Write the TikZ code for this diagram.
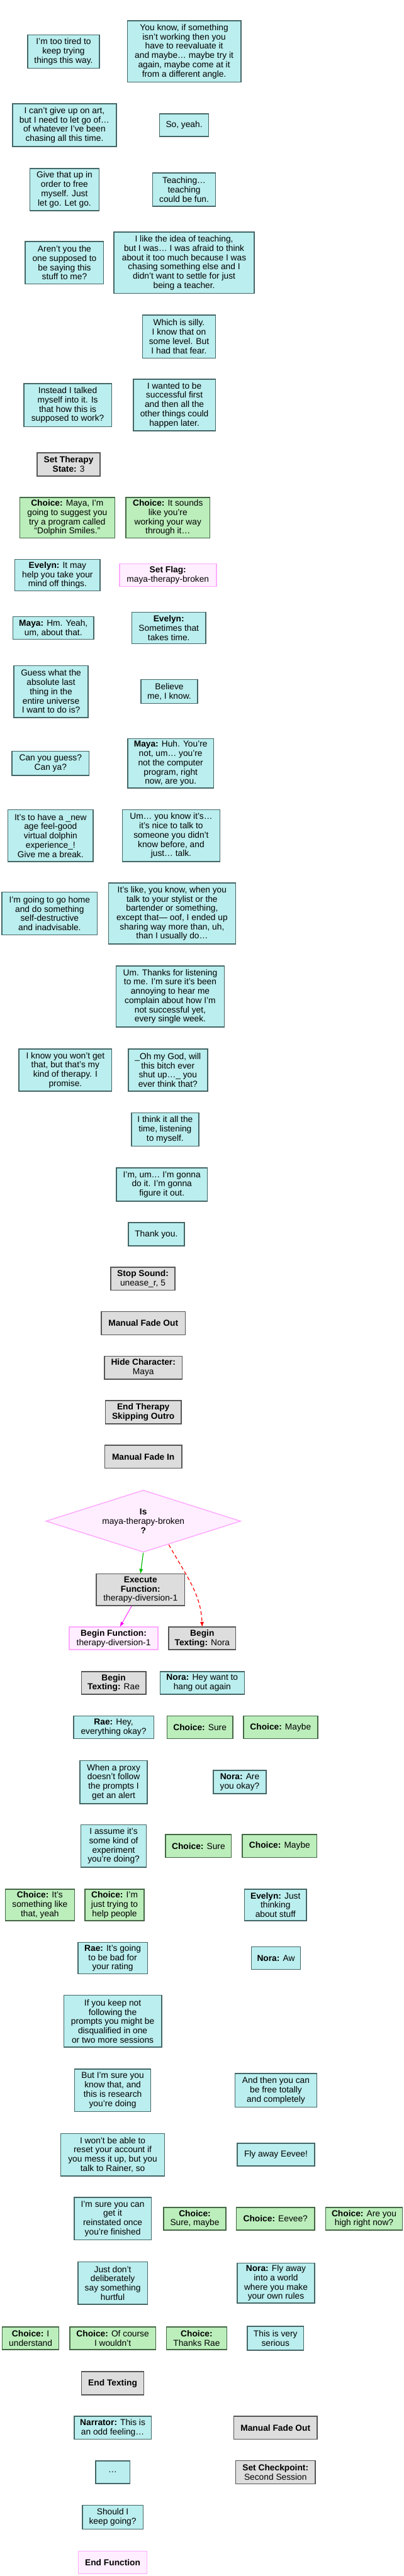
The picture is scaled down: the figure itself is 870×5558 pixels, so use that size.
\documentclass[tikz,border=0pt]{standalone}
\usepackage{fontspec}
\setmainfont{Liberation Sans}
\usetikzlibrary{shapes.geometric,arrows.meta}
\definecolor{cyf}{HTML}{BBEEEE}
\definecolor{cyd}{HTML}{446666}
\definecolor{grf}{HTML}{BBEEBB}
\definecolor{grd}{HTML}{446644}
\definecolor{gyf}{HTML}{DDDDDD}
\definecolor{gyd}{HTML}{555555}
\definecolor{pkf}{HTML}{FFEEFF}
\definecolor{pkd}{HTML}{FFAAFF}
\definecolor{yesc}{HTML}{00BB00}
\definecolor{noc}{HTML}{FF0000}
\definecolor{fnc}{HTML}{FF00FF}
\begin{document}
\begin{tikzpicture}[x=0.75pt,y=-0.75pt,
 base/.style={rectangle,draw,line width=1.5pt,align=center,inner sep=0pt,font=\fontsize{14}{15}\selectfont},
 sz/.style 2 args={minimum width=#1*0.75pt,minimum height=#2*0.75pt},
 say/.style={base,fill=cyf,draw=cyd},
 pick/.style={base,fill=grf,draw=grd},
 act/.style={base,fill=gyf,draw=gyd},
 fn/.style={base,fill=pkf,draw=pkd},
 link/.style={line width=1.2pt,-{Triangle[length=7.5pt,width=5.5pt]}}
]
\fill[white] (0,0) rectangle (870,5558);
\useasboundingbox (0,0) rectangle (870,5558);

\node[say,sz={155}{72}] (n1) at (137,111) {I'm too tired to\\keep trying\\things this way.};
\node[say,sz={245}{132}] (n2) at (397,111) {You know, if something\\isn't working then you\\have to reevaluate it\\and maybe… maybe try it\\again, maybe come at it\\from a different angle.};
\node[say,sz={224}{92}] (n3) at (139,270) {I can't give up on art,\\but I need to let go of…\\of whatever I've been\\chasing all this time.};
\node[say,sz={106}{49}] (n4) at (397,270) {So, yeah.};
\node[say,sz={149}{91}] (n5) at (139,409) {Give that up in\\order to free\\myself. Just\\let go. Let go.};
\node[say,sz={136}{72}] (n6) at (397,409) {Teaching…\\teaching\\could be fun.};
\node[say,sz={169}{92}] (n7) at (139,567) {Aren't you the\\one supposed to\\be saying this\\stuff to me?};
\node[say,sz={303}{132}] (n8) at (397,567) {I like the idea of teaching,\\but I was… I was afraid to think\\about it too much because I was\\chasing something else and I\\didn't want to settle for just\\being a teacher.};
\node[say,sz={157}{93}] (n9) at (386,726) {Which is silly.\\I know that on\\some level. But\\I had that fear.};
\node[say,sz={189}{93}] (n10) at (146,874) {Instead I talked\\myself into it. Is\\that how this is\\supposed to work?};
\node[say,sz={177}{111}] (n11) at (376,874) {I wanted to be\\successful first\\and then all the\\other things could\\happen later.};
\node[act,sz={136}{50}] (n12) at (148,1002) {\textbf{Set Therapy}\\\textbf{State:} 3};
\node[pick,sz={205}{87}] (n13) at (145,1117) {\textbf{Choice:} Maya, I'm\\going to suggest you\\try a program called\\“Dolphin Smiles.”};
\node[pick,sz={181}{87}] (n14) at (362,1117) {\textbf{Choice:} It sounds\\like you're\\working your way\\through it…};
\node[say,sz={184}{68}] (n15) at (124,1241) {\textbf{Evelyn:} It may\\help you take your\\mind off things.};
\node[fn,sz={209}{49}] (n16) at (362,1241) {\textbf{Set Flag:}\\maya-therapy-broken};
\node[say,sz={175}{49}] (n17) at (115,1355) {\textbf{Maya:} Hm. Yeah,\\um, about that.};
\node[say,sz={159}{68}] (n18) at (364,1355) {\textbf{Evelyn:}\\Sometimes that\\takes time.};
\node[say,sz={160}{112}] (n19) at (110,1492) {Guess what the\\absolute last\\thing in the\\entire universe\\I want to do is?};
\node[say,sz={122}{52}] (n20) at (365,1492) {Believe\\me, I know.};
\node[say,sz={166}{52}] (n21) at (109,1647) {Can you guess?\\Can ya?};
\node[say,sz={185}{106}] (n22) at (368,1647) {\textbf{Maya:} Huh. You're\\not, um… you're\\not the computer\\program, right\\now, are you.};
\node[say,sz={184}{112}] (n23) at (109,1803) {It's to have a \_new\\age feel-good\\virtual dolphin\\experience\_!\\Give me a break.};
\node[say,sz={210}{112}] (n24) at (369,1803) {Um… you know it's…\\it's nice to talk to\\someone you didn't\\know before, and\\just… talk.};
\node[say,sz={206}{92}] (n25) at (107,1971) {I'm going to go home\\and do something\\self-destructive\\and inadvisable.};
\node[say,sz={274}{132}] (n26) at (371,1971) {It's like, you know, when you\\talk to your stylist or the\\bartender or something,\\except that— oof, I ended up\\sharing way more than, uh,\\than I usually do…};
\node[say,sz={234}{132}] (n27) at (367,2150) {Um. Thanks for listening\\to me. I'm sure it's been\\annoying to hear me\\complain about how I'm\\not successful yet,\\every single week.};
\node[say,sz={200}{91}] (n28) at (141,2309) {I know you won't get\\that, but that's my\\kind of therapy. I\\promise.};
\node[say,sz={171}{91}] (n29) at (362,2309) {\_Oh my God, will\\this bitch ever\\shut up…\_ you\\ever think that?};
\node[say,sz={145}{72}] (n30) at (356,2437) {I think it all the\\time, listening\\to myself.};
\node[say,sz={196}{72}] (n31) at (349,2556) {I'm, um… I'm gonna\\do it. I'm gonna\\figure it out.};
\node[say,sz={121}{50}] (n32) at (337,2663) {Thank you.};
\node[act,sz={139}{50}] (n33) at (308,2759) {\textbf{Stop Sound:}\\unease\_r, 5};
\node[act,sz={181}{50}] (n34) at (309,2855) {\textbf{Manual Fade Out}};
\node[act,sz={168}{50}] (n35) at (309,2951) {\textbf{Hide Character:}\\Maya};
\node[act,sz={164}{50}] (n36) at (309,3047) {\textbf{End Therapy}\\\textbf{Skipping Outro}};
\node[act,sz={166}{50}] (n37) at (309,3143) {\textbf{Manual Fade In}};
\node[diamond,draw=pkd,fill=pkf,line width=1.5pt,align=center,inner sep=0pt,aspect=3.13,
      minimum width=420*0.75pt,minimum height=134*0.75pt,font=\fontsize{14}{15}\selectfont]
      (dia) at (309,3282) {\textbf{Is}\\maya-therapy-broken\\\textbf{?}};
\node[act,sz={191}{68}] (exec) at (303,3430) {\textbf{Execute}\\\textbf{Function:}\\therapy-diversion-1};
\node[fn,sz={191}{49}] (bfn) at (245,3535) {\textbf{Begin Function:}\\therapy-diversion-1};
\node[act,sz={145}{49}] (bnora) at (436,3535) {\textbf{Begin}\\\textbf{Texting:} Nora};
\node[act,sz={139}{49}] (brae) at (245,3631) {\textbf{Begin}\\\textbf{Texting:} Rae};
\node[say,sz={182}{49}] (n43) at (436,3631) {\textbf{Nora:} Hey want to\\hang out again};
\node[say,sz={173}{49}] (n44) at (245,3727) {\textbf{Rae:} Hey,\\everything okay?};
\node[pick,sz={142}{49}] (n45) at (431,3727) {\textbf{Choice:} Sure};
\node[pick,sz={160}{49}] (n46) at (605,3727) {\textbf{Choice:} Maybe};
\node[say,sz={145}{93}] (n47) at (245,3845) {When a proxy\\doesn't follow\\the prompts I\\get an alert};
\node[say,sz={114}{50}] (n48) at (517,3845) {\textbf{Nora:} Are\\you okay?};
\node[say,sz={141}{92}] (n49) at (245,3983) {I assume it's\\some kind of\\experiment\\you're doing?};
\node[pick,sz={142}{50}] (n50) at (428,3983) {\textbf{Choice:} Sure};
\node[pick,sz={161}{50}] (n51) at (603,3983) {\textbf{Choice:} Maybe};
\node[pick,sz={149}{68}] (n52) at (86,4110) {\textbf{Choice:} It's\\something like\\that, yeah};
\node[pick,sz={128}{68}] (n53) at (247,4110) {\textbf{Choice:} I'm\\just trying to\\help people};
\node[say,sz={134}{68}] (n54) at (594,4110) {\textbf{Evelyn:} Just\\thinking\\about stuff};
\node[say,sz={150}{68}] (n55) at (243,4225) {\textbf{Rae:} It's going\\to be bad for\\your rating};
\node[say,sz={106}{49}] (n56) at (595,4225) {\textbf{Nora:} Aw};
\node[say,sz={211}{112}] (n57) at (243,4361) {If you keep not\\following the\\prompts you might be\\disqualified in one\\or two more sessions};
\node[say,sz={164}{92}] (n58) at (243,4510) {But I'm sure you\\know that, and\\this is research\\you're doing};
\node[say,sz={177}{72}] (n59) at (595,4510) {And then you can\\be free totally\\and completely};
\node[say,sz={224}{92}] (n60) at (243,4649) {I won't be able to\\reset your account if\\you mess it up, but you\\talk to Rainer, so};
\node[say,sz={167}{49}] (n61) at (595,4649) {Fly away Eevee!};
\node[say,sz={166}{92}] (n62) at (243,4787) {I'm sure you can\\get it\\reinstated once\\you're finished};
\node[pick,sz={134}{49}] (n63) at (420,4787) {\textbf{Choice:}\\Sure, maybe};
\node[pick,sz={169}{49}] (n64) at (594,4787) {\textbf{Choice:} Eevee?};
\node[pick,sz={166}{49}] (n65) at (785,4787) {\textbf{Choice:} Are you\\high right now?};
\node[say,sz={150}{92}] (n66) at (243,4926) {Just don't\\deliberately\\say something\\hurtful};
\node[say,sz={167}{86}] (n67) at (595,4926) {\textbf{Nora:} Fly away\\into a world\\where you make\\your own rules};
\node[pick,sz={122}{49}] (n68) at (66,5045) {\textbf{Choice:} I\\understand};
\node[pick,sz={185}{49}] (n69) at (243,5045) {\textbf{Choice:} Of course\\I wouldn't};
\node[pick,sz={130}{49}] (n70) at (424,5045) {\textbf{Choice:}\\Thanks Rae};
\node[say,sz={122}{52}] (n71) at (594,5045) {This is very\\serious};
\node[act,sz={134}{50}] (n72) at (243,5142) {\textbf{End Texting}};
\node[say,sz={166}{50}] (n73) at (243,5238) {\textbf{Narrator:} This is\\an odd feeling…};
\node[act,sz={180}{50}] (n74) at (594,5238) {\textbf{Manual Fade Out}};
\node[say,sz={74}{49}] (n75) at (243,5334) {…};
\node[act,sz={171}{50}] (n76) at (594,5334) {\textbf{Set Checkpoint:}\\Second Session};
\node[say,sz={131}{52}] (n77) at (243,5431) {Should I\\keep going?};
\node[fn,sz={148}{49}] (n78) at (243,5529) {\textbf{End Function}};

\draw[link,yesc] (dia.south) -- (exec.north);
\draw[link,fnc,line width=0.8pt] ([xshift=-19*0.75pt]exec.south) -- ([xshift=14*0.75pt]bfn.north);
\draw[link,noc,dashed,dash pattern=on 6pt off 4pt] ([shift={(55,-17)}]dia.south) .. controls (405,3405) and (433,3440) .. (bnora.north);
\end{tikzpicture}
\end{document}
